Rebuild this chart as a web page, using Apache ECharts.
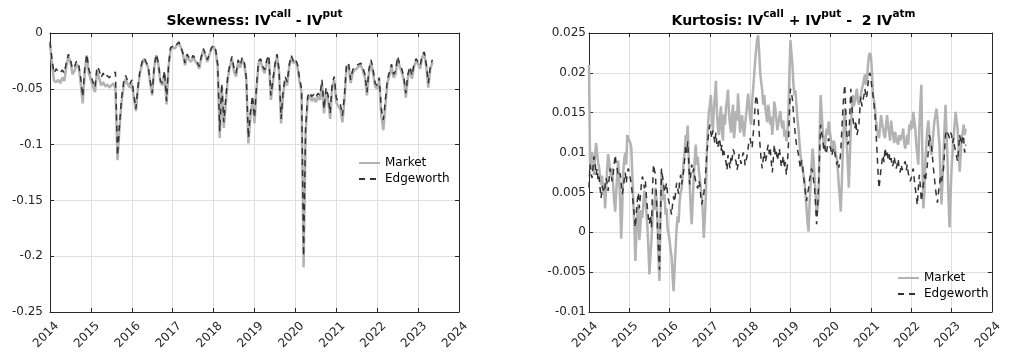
<!DOCTYPE html>
<html>
<head>
<meta charset="utf-8">
<script src="https://cdn.jsdelivr.net/npm/echarts@6/dist/echarts.min.js"></script>
<style>
  html, body { margin: 0; padding: 0; background: #fff; }
  #chart { width: 1009px; height: 356px; }
</style>
</head>
<body>
<div id="chart"></div>
<script>
// Both panels start at 2014.00; skewness is sampled every 0.05 year, kurtosis every 0.025 year
const startYear = 2014;
const skewStep = 0.05;
const kurtStep = 0.025;
const yearTicks = [2014, 2015, 2016, 2017, 2018, 2019, 2020, 2021, 2022, 2023, 2024];
const seriesNames = ['Market', 'Edgeworth'];

// Skewness: IV(call) - IV(put)
const skewMarket = [
  -0.010, -0.028, -0.043, -0.044, -0.042, -0.045, -0.040, -0.043, -0.030, -0.021, -0.026, -0.037, -0.034, -0.028, -0.030, -0.045, -0.063, -0.035, -0.020, -0.036, // 2014
  -0.042, -0.048, -0.053, -0.034, -0.040, -0.047, -0.044, -0.048, -0.046, -0.049, -0.047, -0.045, -0.050, -0.114, -0.085, -0.062, -0.048, -0.041, -0.046, -0.049, // 2015
  -0.045, -0.058, -0.070, -0.050, -0.036, -0.028, -0.023, -0.027, -0.031, -0.045, -0.056, -0.030, -0.020, -0.028, -0.044, -0.047, -0.036, -0.064, -0.030, -0.014, // 2016
  -0.013, -0.014, -0.011, -0.009, -0.013, -0.019, -0.029, -0.020, -0.024, -0.026, -0.021, -0.025, -0.028, -0.032, -0.022, -0.015, -0.020, -0.026, -0.019, -0.014, // 2017
  -0.012, -0.016, -0.030, -0.094, -0.048, -0.085, -0.062, -0.040, -0.030, -0.023, -0.035, -0.039, -0.026, -0.031, -0.024, -0.028, -0.042, -0.099, -0.075, -0.060, // 2018
  -0.081, -0.050, -0.027, -0.025, -0.032, -0.036, -0.026, -0.022, -0.060, -0.045, -0.030, -0.020, -0.035, -0.081, -0.055, -0.042, -0.047, -0.030, -0.022, -0.027, // 2019
  -0.025, -0.030, -0.043, -0.053, -0.210, -0.090, -0.060, -0.056, -0.061, -0.058, -0.062, -0.057, -0.060, -0.045, -0.072, -0.052, -0.060, -0.077, -0.048, -0.042, // 2020
  -0.062, -0.066, -0.068, -0.080, -0.060, -0.030, -0.029, -0.045, -0.036, -0.033, -0.032, -0.030, -0.029, -0.034, -0.040, -0.056, -0.035, -0.026, -0.036, -0.048, // 2021
  -0.050, -0.043, -0.074, -0.087, -0.065, -0.045, -0.038, -0.030, -0.040, -0.037, -0.023, -0.030, -0.035, -0.042, -0.058, -0.040, -0.033, -0.041, -0.030, -0.025, // 2022
  -0.028, -0.032, -0.022, -0.018, -0.030, -0.049, -0.032, -0.026                                                                                                   // 2023
];
const skewEdgeworth = [
  -0.008, -0.024, -0.036, -0.032, -0.035, -0.036, -0.033, -0.036, -0.026, -0.019, -0.024, -0.032, -0.030, -0.025, -0.028, -0.040, -0.057, -0.032, -0.019, -0.033, // 2014
  -0.038, -0.044, -0.049, -0.030, -0.033, -0.040, -0.036, -0.040, -0.038, -0.040, -0.038, -0.036, -0.035, -0.110, -0.082, -0.058, -0.044, -0.038, -0.043, -0.046, // 2015
  -0.042, -0.055, -0.068, -0.048, -0.034, -0.026, -0.022, -0.026, -0.030, -0.043, -0.054, -0.029, -0.019, -0.027, -0.043, -0.045, -0.034, -0.061, -0.028, -0.013, // 2016
  -0.012, -0.013, -0.010, -0.008, -0.012, -0.018, -0.027, -0.019, -0.022, -0.024, -0.020, -0.023, -0.026, -0.030, -0.021, -0.014, -0.019, -0.024, -0.018, -0.013, // 2017
  -0.011, -0.015, -0.028, -0.088, -0.045, -0.080, -0.058, -0.037, -0.028, -0.021, -0.032, -0.036, -0.024, -0.029, -0.022, -0.026, -0.040, -0.094, -0.071, -0.056, // 2018
  -0.076, -0.047, -0.025, -0.023, -0.030, -0.033, -0.024, -0.020, -0.056, -0.042, -0.028, -0.019, -0.033, -0.077, -0.052, -0.039, -0.044, -0.028, -0.020, -0.025, // 2019
  -0.023, -0.028, -0.040, -0.050, -0.200, -0.085, -0.057, -0.053, -0.057, -0.055, -0.058, -0.054, -0.056, -0.042, -0.068, -0.049, -0.056, -0.072, -0.045, -0.039, // 2020
  -0.058, -0.062, -0.064, -0.074, -0.056, -0.028, -0.027, -0.042, -0.033, -0.030, -0.029, -0.028, -0.027, -0.031, -0.037, -0.053, -0.032, -0.024, -0.033, -0.045, // 2021
  -0.047, -0.040, -0.068, -0.078, -0.060, -0.041, -0.035, -0.028, -0.037, -0.034, -0.021, -0.028, -0.032, -0.039, -0.054, -0.037, -0.030, -0.038, -0.028, -0.023, // 2022
  -0.026, -0.029, -0.020, -0.017, -0.028, -0.045, -0.029, -0.024                                                                                                   // 2023
];

// Kurtosis: IV(call) + IV(put) - 2 IV(atm)
const kurtMarket = [
  // 2014
  0.0210, 0.0090, 0.0078, 0.0101, 0.0090, 0.0072, 0.0097, 0.0112, 0.0100, 0.0088, 0.0082, 0.0068, 0.0060, 0.0071, 0.0047, 0.0062, 0.0030, 0.0056, 0.0080, 0.0098,
  0.0089, 0.0075, 0.0070, 0.0081, 0.0058, 0.0040, 0.0026, 0.0050, 0.0072, 0.0090, 0.0068, 0.0035, -0.0008, 0.0030, 0.0075, 0.0092, 0.0100, 0.0085, 0.0122, 0.0118,
  // 2015
  0.0120, 0.0112, 0.0106, 0.0072, 0.0040, 0.0010, -0.0036, -0.0005, 0.0022, 0.0035, -0.0010, 0.0008, 0.0028, 0.0018, 0.0035, 0.0052, 0.0045, 0.0025, 0.0006, -0.0020,
  -0.0053, -0.0030, -0.0010, 0.0015, 0.0040, 0.0028, 0.0056, 0.0042, 0.0015, -0.0035, -0.0061, 0.0020, 0.0076, 0.0058, 0.0040, 0.0048, 0.0022, 0.0030, 0.0005, -0.0002,
  // 2016
  -0.0010, -0.0022, -0.0030, -0.0055, -0.0074, -0.0045, -0.0020, 0.0005, 0.0020, 0.0012, 0.0039, 0.0050, 0.0055, 0.0072, 0.0089, 0.0100, 0.0122, 0.0115, 0.0134, 0.0095,
  0.0060, 0.0030, 0.0010, 0.0040, 0.0068, 0.0092, 0.0110, 0.0085, 0.0095, 0.0078, 0.0068, 0.0055, 0.0047, 0.0025, -0.0007, 0.0018, 0.0045, 0.0100, 0.0130, 0.0150,
  // 2017
  0.0160, 0.0172, 0.0143, 0.0128, 0.0155, 0.0170, 0.0190, 0.0152, 0.0130, 0.0122, 0.0143, 0.0158, 0.0127, 0.0115, 0.0148, 0.0135, 0.0156, 0.0166, 0.0179, 0.0150,
  0.0135, 0.0125, 0.0147, 0.0160, 0.0118, 0.0132, 0.0152, 0.0140, 0.0174, 0.0150, 0.0125, 0.0138, 0.0147, 0.0132, 0.0120, 0.0135, 0.0148, 0.0160, 0.0174, 0.0158,
  // 2018
  0.0143, 0.0135, 0.0165, 0.0180, 0.0197, 0.0215, 0.0230, 0.0242, 0.0247, 0.0225, 0.0200, 0.0188, 0.0178, 0.0160, 0.0172, 0.0158, 0.0147, 0.0138, 0.0160, 0.0150,
  0.0135, 0.0145, 0.0122, 0.0140, 0.0164, 0.0155, 0.0143, 0.0128, 0.0130, 0.0145, 0.0152, 0.0138, 0.0130, 0.0140, 0.0120, 0.0128, 0.0114, 0.0125, 0.0150, 0.0200,
  // 2019
  0.0241, 0.0225, 0.0210, 0.0185, 0.0172, 0.0178, 0.0160, 0.0142, 0.0130, 0.0112, 0.0097, 0.0088, 0.0080, 0.0072, 0.0064, 0.0048, 0.0030, 0.0012, 0.0001, 0.0035,
  0.0060, 0.0085, 0.0105, 0.0090, 0.0070, 0.0048, 0.0022, 0.0030, 0.0045, 0.0120, 0.0172, 0.0150, 0.0130, 0.0112, 0.0105, 0.0118, 0.0130, 0.0122, 0.0139, 0.0128,
  // 2020
  0.0118, 0.0108, 0.0102, 0.0115, 0.0110, 0.0098, 0.0093, 0.0080, 0.0060, 0.0045, 0.0026, 0.0060, 0.0100, 0.0135, 0.0156, 0.0130, 0.0110, 0.0085, 0.0056, 0.0095,
  0.0130, 0.0155, 0.0172, 0.0158, 0.0160, 0.0172, 0.0180, 0.0165, 0.0160, 0.0168, 0.0172, 0.0180, 0.0185, 0.0192, 0.0198, 0.0185, 0.0190, 0.0210, 0.0222, 0.0225,
  // 2021
  0.0220, 0.0200, 0.0172, 0.0165, 0.0156, 0.0140, 0.0130, 0.0122, 0.0118, 0.0132, 0.0147, 0.0138, 0.0130, 0.0122, 0.0118, 0.0135, 0.0147, 0.0132, 0.0125, 0.0115,
  0.0140, 0.0128, 0.0122, 0.0112, 0.0126, 0.0118, 0.0118, 0.0110, 0.0122, 0.0115, 0.0114, 0.0122, 0.0130, 0.0112, 0.0105, 0.0115, 0.0122, 0.0110, 0.0135, 0.0128,
  // 2022
  0.0140, 0.0130, 0.0151, 0.0140, 0.0130, 0.0110, 0.0097, 0.0085, 0.0130, 0.0160, 0.0185, 0.0100, 0.0030, 0.0050, 0.0089, 0.0110, 0.0130, 0.0140, 0.0122, 0.0105,
  0.0097, 0.0110, 0.0126, 0.0140, 0.0147, 0.0155, 0.0143, 0.0125, 0.0110, 0.0070, 0.0035, 0.0065, 0.0097, 0.0130, 0.0160, 0.0125, 0.0089, 0.0040, 0.0006, 0.0045,
  // 2023
  0.0080, 0.0100, 0.0118, 0.0135, 0.0151, 0.0140, 0.0130, 0.0105, 0.0076, 0.0095, 0.0118, 0.0125, 0.0135, 0.0122, 0.0130
];
const kurtEdgeworth = [
  // 2014
  0.0056, 0.0085, 0.0075, 0.0068, 0.0082, 0.0095, 0.0089, 0.0072, 0.0080, 0.0065, 0.0070, 0.0055, 0.0043, 0.0058, 0.0060, 0.0050, 0.0058, 0.0068, 0.0062, 0.0052,
  0.0068, 0.0080, 0.0072, 0.0064, 0.0073, 0.0085, 0.0097, 0.0086, 0.0080, 0.0070, 0.0068, 0.0074, 0.0060, 0.0048, 0.0055, 0.0066, 0.0075, 0.0062, 0.0073, 0.0080,
  // 2015
  0.0075, 0.0068, 0.0060, 0.0048, 0.0035, 0.0020, 0.0006, 0.0025, 0.0040, 0.0050, 0.0030, 0.0045, 0.0060, 0.0070, 0.0065, 0.0055, 0.0064, 0.0045, 0.0030, 0.0018,
  0.0010, 0.0022, 0.0006, 0.0050, 0.0085, 0.0078, 0.0072, 0.0040, 0.0005, -0.0025, -0.0047, 0.0020, 0.0080, 0.0070, 0.0062, 0.0050, 0.0055, 0.0062, 0.0048, 0.0040,
  // 2016
  0.0040, 0.0030, 0.0022, 0.0035, 0.0045, 0.0038, 0.0050, 0.0062, 0.0055, 0.0048, 0.0065, 0.0072, 0.0060, 0.0068, 0.0077, 0.0092, 0.0110, 0.0100, 0.0114, 0.0090,
  0.0060, 0.0072, 0.0085, 0.0075, 0.0080, 0.0070, 0.0064, 0.0058, 0.0055, 0.0065, 0.0060, 0.0045, 0.0035, 0.0042, 0.0048, 0.0062, 0.0078, 0.0098, 0.0114, 0.0128,
  // 2017
  0.0135, 0.0125, 0.0118, 0.0128, 0.0130, 0.0112, 0.0125, 0.0110, 0.0106, 0.0118, 0.0114, 0.0102, 0.0110, 0.0095, 0.0102, 0.0092, 0.0089, 0.0078, 0.0097, 0.0088,
  0.0080, 0.0095, 0.0090, 0.0104, 0.0101, 0.0092, 0.0089, 0.0078, 0.0085, 0.0098, 0.0097, 0.0086, 0.0092, 0.0100, 0.0097, 0.0084, 0.0085, 0.0096, 0.0106, 0.0115,
  // 2018
  0.0118, 0.0110, 0.0106, 0.0122, 0.0139, 0.0160, 0.0172, 0.0165, 0.0150, 0.0125, 0.0106, 0.0090, 0.0080, 0.0092, 0.0101, 0.0088, 0.0093, 0.0104, 0.0110, 0.0098,
  0.0105, 0.0088, 0.0075, 0.0092, 0.0110, 0.0096, 0.0101, 0.0090, 0.0097, 0.0105, 0.0093, 0.0082, 0.0089, 0.0096, 0.0080, 0.0088, 0.0072, 0.0085, 0.0110, 0.0150,
  // 2019
  0.0180, 0.0175, 0.0167, 0.0150, 0.0135, 0.0120, 0.0110, 0.0104, 0.0097, 0.0088, 0.0080, 0.0090, 0.0085, 0.0070, 0.0060, 0.0048, 0.0039, 0.0048, 0.0055, 0.0066,
  0.0072, 0.0080, 0.0076, 0.0065, 0.0055, 0.0035, 0.0010, 0.0030, 0.0060, 0.0100, 0.0135, 0.0125, 0.0118, 0.0105, 0.0110, 0.0098, 0.0101, 0.0112, 0.0118, 0.0108,
  // 2020
  0.0105, 0.0096, 0.0097, 0.0106, 0.0101, 0.0092, 0.0085, 0.0090, 0.0081, 0.0088, 0.0101, 0.0128, 0.0151, 0.0172, 0.0185, 0.0150, 0.0122, 0.0110, 0.0114, 0.0150,
  0.0180, 0.0160, 0.0143, 0.0135, 0.0130, 0.0140, 0.0122, 0.0128, 0.0135, 0.0155, 0.0170, 0.0158, 0.0160, 0.0172, 0.0180, 0.0168, 0.0172, 0.0185, 0.0197, 0.0200,
  // 2021
  0.0192, 0.0180, 0.0172, 0.0160, 0.0147, 0.0125, 0.0101, 0.0075, 0.0055, 0.0068, 0.0080, 0.0090, 0.0097, 0.0088, 0.0106, 0.0096, 0.0101, 0.0092, 0.0098, 0.0088,
  0.0093, 0.0082, 0.0085, 0.0095, 0.0093, 0.0080, 0.0085, 0.0092, 0.0080, 0.0075, 0.0085, 0.0078, 0.0076, 0.0086, 0.0089, 0.0078, 0.0085, 0.0074, 0.0072, 0.0064,
  // 2022
  0.0068, 0.0075, 0.0080, 0.0066, 0.0055, 0.0045, 0.0034, 0.0055, 0.0072, 0.0058, 0.0039, 0.0050, 0.0060, 0.0072, 0.0064, 0.0075, 0.0085, 0.0105, 0.0122, 0.0115,
  0.0110, 0.0095, 0.0080, 0.0068, 0.0055, 0.0045, 0.0037, 0.0050, 0.0060, 0.0070, 0.0064, 0.0072, 0.0080, 0.0100, 0.0122, 0.0128, 0.0130, 0.0122, 0.0118, 0.0125,
  // 2023
  0.0122, 0.0112, 0.0118, 0.0108, 0.0101, 0.0095, 0.0089, 0.0105, 0.0122, 0.0115, 0.0110, 0.0122, 0.0118, 0.0100, 0.0110
];

const FONT = 'DejaVu Sans';
const INK = '#262626';
const GRID_LINE = '#dfdfdf';

function withTime(values, step) {
  return values.map((v, i) => [+(startYear + i * step).toFixed(3), v]);
}

function titleRich() {
  return {
    m: { fontFamily: FONT, fontSize: 14, fontWeight: 'bold', color: '#000', lineHeight: 24 },
    s: { fontFamily: FONT, fontSize: 10.5, fontWeight: 'bold', color: '#000', lineHeight: 6, verticalAlign: 'top' }
  };
}

function xAxes(gridIndex) {
  return [
    {
      gridIndex, type: 'value', position: 'bottom',
      min: yearTicks[0], max: yearTicks[yearTicks.length - 1], interval: 1,
      axisLine: { show: true, onZero: false, lineStyle: { color: INK, width: 1 } },
      axisTick: { show: true, inside: true, length: 4, lineStyle: { color: INK } },
      axisLabel: {
        rotate: 45, margin: 19, align: 'center', verticalAlign: 'middle',
        formatter: v => '{t|' + v + '}{sp|}',
        rich: {
          t: { fontFamily: FONT, fontSize: 12, color: INK },
          sp: { width: 11 }
        }
      },
      splitLine: { show: true, lineStyle: { color: GRID_LINE, width: 1 } }
    },
    {
      gridIndex, type: 'value', position: 'top',
      min: yearTicks[0], max: yearTicks[yearTicks.length - 1], interval: 1,
      axisLine: { show: true, onZero: false, lineStyle: { color: INK, width: 1 } },
      axisTick: { show: true, inside: true, length: 4, lineStyle: { color: INK } },
      axisLabel: { show: false },
      splitLine: { show: false }
    }
  ];
}

function yAxes(gridIndex, min, max, interval, margin) {
  return [
    {
      gridIndex, type: 'value', position: 'left', min, max, interval,
      axisLine: { show: true, onZero: false, lineStyle: { color: INK, width: 1 } },
      axisTick: { show: true, inside: true, length: 4, lineStyle: { color: INK } },
      axisLabel: { fontFamily: FONT, fontSize: 12, color: INK, margin },
      splitLine: { show: true, lineStyle: { color: GRID_LINE, width: 1 } }
    },
    {
      gridIndex, type: 'value', position: 'right', min, max, interval,
      axisLine: { show: true, onZero: false, lineStyle: { color: INK, width: 1 } },
      axisTick: { show: true, inside: true, length: 4, lineStyle: { color: INK } },
      axisLabel: { show: false },
      splitLine: { show: false }
    }
  ];
}

function marketSeries(data, step, xi, yi) {
  return {
    name: seriesNames[0], type: 'line', xAxisIndex: xi, yAxisIndex: yi,
    data: withTime(data, step), symbol: 'none', silent: true,
    lineStyle: { color: '#b3b3b3', width: 2.5 },
    itemStyle: { color: '#b3b3b3' }
  };
}
function edgeworthSeries(data, step, xi, yi) {
  return {
    name: seriesNames[1], type: 'line', xAxisIndex: xi, yAxisIndex: yi,
    data: withTime(data, step), symbol: 'none', silent: true,
    lineStyle: { color: '#333333', width: 1.5, type: [6, 5] },
    itemStyle: { color: '#333333' }
  };
}

function legendAt(left, top) {
  return {
    orient: 'vertical', left, top,
    data: seriesNames,
    itemWidth: 21, itemHeight: 14, itemGap: 4, padding: 0,
    selectedMode: false,
    itemStyle: { opacity: 0 },
    textStyle: { fontFamily: FONT, fontSize: 12, color: '#000' }
  };
}

const chart = echarts.init(document.getElementById('chart'), null, { renderer: 'canvas' });
chart.setOption({
  animation: false,
  backgroundColor: '#fff',
  title: [
    {
      text: '{m|Skewness: IV}{s|call}{m| - IV}{s|put}',
      left: 254.5, top: 9, textAlign: 'center', padding: 0,
      textStyle: { rich: titleRich() }
    },
    {
      text: '{m|Kurtosis: IV}{s|call}{m| + IV}{s|put}{m| -  2 IV}{s|atm}',
      left: 793.5, top: 9, textAlign: 'center', padding: 0,
      textStyle: { rich: titleRich() }
    }
  ],
  grid: [
    { left: 50, top: 33, width: 409, height: 279 },
    { left: 589, top: 33, width: 409, height: 279 }
  ],
  xAxis: [...xAxes(0), ...xAxes(1)],
  yAxis: [...yAxes(0, -0.25, 0, 0.05, 7), ...yAxes(1, -0.01, 0.025, 0.005, 3)],
  legend: [legendAt(358, 157), legendAt(897, 272)],
  series: [
    marketSeries(skewMarket, skewStep, 0, 0),
    edgeworthSeries(skewEdgeworth, skewStep, 0, 0),
    marketSeries(kurtMarket, kurtStep, 2, 2),
    edgeworthSeries(kurtEdgeworth, kurtStep, 2, 2)
  ]
});
</script>
</body>
</html>
